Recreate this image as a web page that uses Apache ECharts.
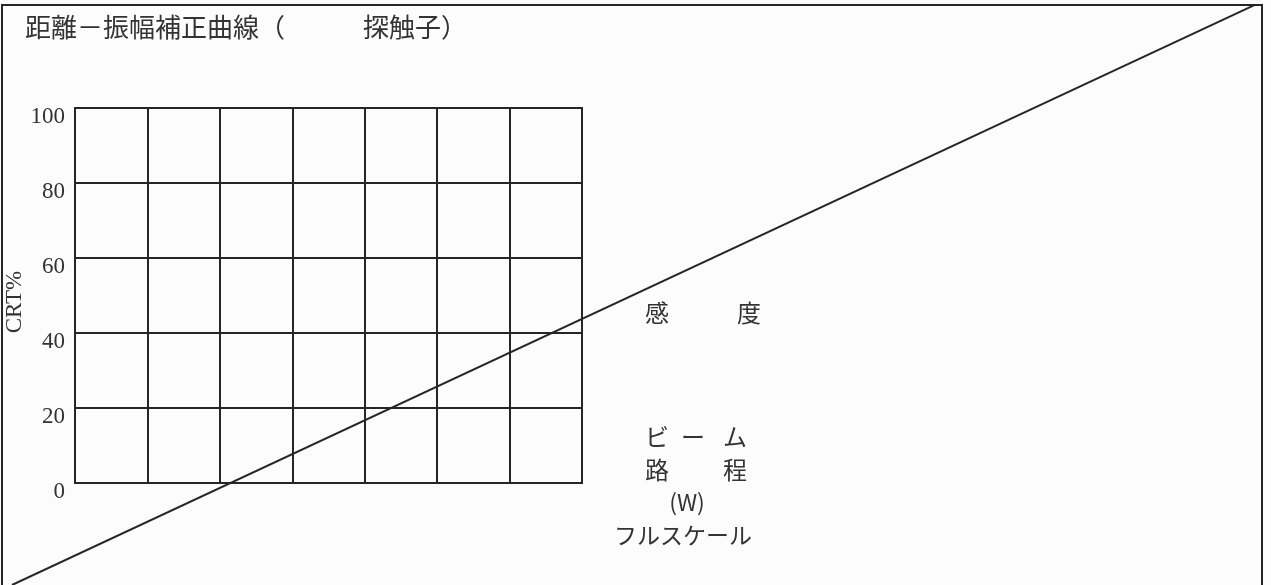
<!DOCTYPE html>
<html lang="ja">
  <head>
    <meta charset="UTF-8" />
    <title>距離－振幅補正曲線</title>
    <script src="https://cdn.jsdelivr.net/npm/echarts@6/dist/echarts.min.js"></script>
    <style>
      html, body { margin: 0; padding: 0; background: #fcfcfc; }
      #main { width: 1271px; height: 585px; }
    </style>
  </head>
  <body>
    <div id="main"></div>
    <script>
      // グリッド（ビーム路程の目盛: 7 マス）
      const xTicks = [0, 1, 2, 3, 4, 5, 6, 7]
      // CRT% の目盛
      const yTicks = [0, 20, 40, 60, 80, 100]
      // 感度の直線（グリッドの単位で両端、グリッドの外まで伸びる）
      const sensX = [-0.87, 16.29]
      const sensY = [-27.2, 127.5]

      const W = 1271, H = 585
      const box = { left: 75, top: 108, width: 507, height: 375 }

      const lineColor = '#262626'
      const textColor = '#333'
      const jp = '"Noto Sans CJK JP", sans-serif'
      const serif = '"Liberation Serif", serif'

      // 全面グリッドの軸範囲を、小さいグリッドと同じ単位になるよう合わせる
      const xUnit = box.width / (xTicks[xTicks.length - 1] - xTicks[0])
      const yUnit = box.height / (yTicks[yTicks.length - 1] - yTicks[0])
      const fullX = [-box.left / xUnit, (W - box.left) / xUnit]
      const fullY = [-(H - box.top - box.height) / yUnit, (box.top + box.height) / yUnit]

      // 文字を一つずつ並べる
      function spaced(chars, centers, y, size) {
        return chars.map((c, i) => ({
          type: 'text', x: centers[i], y: y,
          style: { text: c, fontSize: size, fontFamily: jp, fill: textColor, align: 'center', verticalAlign: 'middle' }
        }))
      }

      const chart = echarts.init(document.getElementById('main'))

      const option = {
        backgroundColor: '#fcfcfc',
        animation: false,
        title: {
          text: '距離－振幅補正曲線（　　　探触子）',
          left: 25,
          top: 14,
          padding: 0,
          textStyle: { fontSize: 26, fontWeight: 'normal', color: textColor, fontFamily: jp }
        },
        grid: [
          {
            left: box.left, top: box.top, width: box.width, height: box.height,
            show: true, borderColor: lineColor, borderWidth: 2
          },
          // 外枠（下辺は画面外）
          {
            left: 2, top: 5, width: W - 11, height: H + 40,
            outerBoundsMode: 'none',
            show: true, borderColor: lineColor, borderWidth: 2,
            backgroundColor: 'transparent'
          },
          // 感度線用の全面グリッド
          { left: 0, top: 0, width: W, height: H, outerBoundsMode: 'none' }
        ],
        xAxis: [
          {
            type: 'value', gridIndex: 0,
            min: xTicks[0], max: xTicks[xTicks.length - 1], interval: 1,
            axisLine: { show: true, lineStyle: { color: lineColor, width: 2 } },
            axisTick: { show: false },
            axisLabel: { show: false },
            splitLine: { show: true, lineStyle: { color: lineColor, width: 2 } }
          },
          { type: 'value', gridIndex: 1, show: false, min: 0, max: 1 },
          { type: 'value', gridIndex: 2, show: false, min: fullX[0], max: fullX[1] }
        ],
        yAxis: [
          {
            type: 'value', gridIndex: 0,
            min: yTicks[0], max: yTicks[yTicks.length - 1], interval: 20,
            name: 'CRT%',
            nameLocation: 'middle',
            nameRotate: 90,
            nameGap: 48,
            nameTextStyle: { fontSize: 23, color: textColor, fontFamily: serif, padding: [0, 13, 0, 0] },
            axisLine: { show: true, lineStyle: { color: lineColor, width: 2 } },
            axisTick: { show: false },
            axisLabel: {
              margin: 10,
              fontSize: 23,
              lineHeight: 18,
              color: textColor,
              fontFamily: serif,
              verticalAlign: 'top'
            },
            splitLine: { show: true, lineStyle: { color: lineColor, width: 2 } }
          },
          { type: 'value', gridIndex: 1, show: false, min: 0, max: 1 },
          { type: 'value', gridIndex: 2, show: false, min: fullY[0], max: fullY[1] }
        ],
        series: [
          {
            name: '感度',
            type: 'line',
            xAxisIndex: 2,
            yAxisIndex: 2,
            data: sensX.map((x, i) => [x, sensY[i]]),
            symbol: 'none',
            silent: true,
            z: 5,
            lineStyle: { color: lineColor, width: 2 }
          }
        ],
        graphic: [].concat(
          spaced(['感', '度'], [657, 749], 313, 24),
          spaced(['ビ', 'ー', 'ム'], [657, 693, 735], 437, 24),
          spaced(['路', '程'], [657, 735], 470, 24),
          [
            { type: 'text', x: 687, y: 502, style: { text: '(W)', fontSize: 23, fontFamily: jp, fill: textColor, align: 'center', verticalAlign: 'middle' } },
            { type: 'text', x: 683, y: 535, style: { text: 'フルスケール', fontSize: 23, fontFamily: jp, fill: textColor, align: 'center', verticalAlign: 'middle' } }
          ]
        )
      }

      chart.setOption(option)
    </script>
  </body>
</html>
